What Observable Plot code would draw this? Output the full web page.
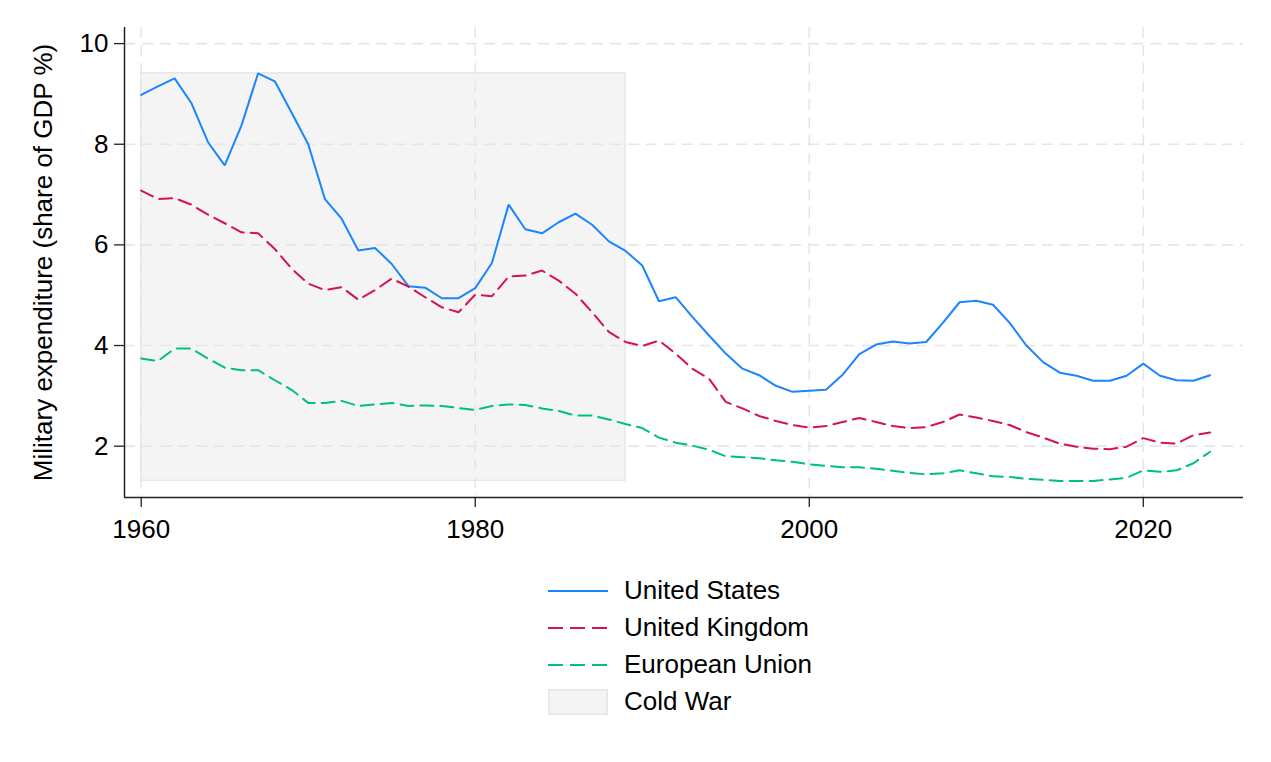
<!DOCTYPE html>
<html>
<head>
<meta charset="utf-8">
<script src="https://cdn.jsdelivr.net/npm/d3@7"></script>
<script src="https://cdn.jsdelivr.net/npm/@observablehq/plot@0.6"></script>
<style>
  html, body { margin: 0; padding: 0; background: #fff; }
  #wrap { position: relative; width: 1271px; height: 762px; font-family: "Liberation Sans", Arial, sans-serif; }
  #legend { position: absolute; left: 548px; top: 572px; font-size: 26px; color: #000; }
  .row { display: flex; align-items: center; height: 37px; }
  .row svg { display: block; margin-right: 16px; }
</style>
</head>
<body>
<div id="wrap"><div id="chart"></div><div id="legend"></div></div>
<script>
const years = [1960,1961,1962,1963,1964,1965,1966,1967,1968,1969,
  1970,1971,1972,1973,1974,1975,1976,1977,1978,1979,
  1980,1981,1982,1983,1984,1985,1986,1987,1988,1989,
  1990,1991,1992,1993,1994,1995,1996,1997,1998,1999,
  2000,2001,2002,2003,2004,2005,2006,2007,2008,2009,
  2010,2011,2012,2013,2014,2015,2016,2017,2018,2019,
  2020,2021,2022,2023,2024];

const unitedStates = [8.98,9.15,9.31,8.82,8.04,7.58,8.37,9.41,9.25,8.63,
  8.00,6.91,6.52,5.89,5.94,5.62,5.18,5.15,4.94,4.94,
  5.14,5.64,6.80,6.31,6.23,6.45,6.62,6.40,6.07,5.88,
  5.59,4.88,4.96,4.57,4.20,3.84,3.54,3.41,3.20,3.08,
  3.10,3.12,3.42,3.83,4.02,4.08,4.04,4.07,4.45,4.86,
  4.89,4.81,4.45,4.00,3.67,3.46,3.40,3.30,3.30,3.40,
  3.64,3.40,3.31,3.30,3.41];

const unitedKingdom = [7.08,6.91,6.93,6.80,6.60,6.43,6.25,6.23,5.92,5.53,
  5.23,5.10,5.16,4.91,5.10,5.33,5.17,4.96,4.76,4.66,
  5.01,4.98,5.37,5.39,5.49,5.29,5.03,4.66,4.27,4.07,
  3.99,4.10,3.84,3.54,3.34,2.88,2.75,2.60,2.50,2.42,
  2.37,2.40,2.48,2.56,2.48,2.40,2.36,2.38,2.48,2.63,
  2.57,2.50,2.42,2.28,2.17,2.05,1.99,1.95,1.94,1.99,
  2.16,2.07,2.05,2.22,2.27];

const europeanUnion = [3.74,3.69,3.94,3.94,3.74,3.56,3.51,3.51,3.31,3.12,
  2.86,2.86,2.90,2.80,2.83,2.86,2.80,2.81,2.80,2.76,
  2.72,2.80,2.83,2.82,2.75,2.70,2.61,2.61,2.53,2.44,
  2.36,2.17,2.07,2.01,1.93,1.80,1.78,1.76,1.72,1.69,
  1.64,1.61,1.58,1.58,1.55,1.51,1.47,1.44,1.46,1.52,
  1.46,1.40,1.39,1.35,1.33,1.31,1.31,1.31,1.34,1.37,
  1.52,1.49,1.52,1.66,1.89];

const seriesNames = ["United States", "United Kingdom", "European Union"];
const seriesColors = ["#1a85ff", "#d41159", "#00bf7f"];
const seriesDash = [null, "13,7", "13,7"];
const coldWarLabel = "Cold War";
const coldWarStart = 1960;
const coldWarEnd = 1989;

const xTicks = [1960, 1980, 2000, 2020];
const yTicks = [2, 4, 6, 8, 10];
const xDomain = [1959, 2026];
const yDomain = [0.98, 10.32];
const yLabel = "Military expenditure (share of GDP %)";

const seriesValues = [unitedStates, unitedKingdom, europeanUnion];
const rows = seriesNames.map((name, k) => years.map((yr, i) => ({year: yr, value: seriesValues[k][i], country: name})));
const allValues = seriesValues.flat();
const coldWar = [{start: coldWarStart, end: coldWarEnd, low: d3.min(allValues), high: d3.max(allValues)}];

const gridStyle = {stroke: "#e6e6e6", strokeOpacity: 1, strokeWidth: 1.6, strokeDasharray: "11,7"};

const chart = Plot.plot({
  width: 1271,
  height: 560,
  marginLeft: 124,
  marginRight: 28,
  marginTop: 27,
  marginBottom: 63,
  style: {fontFamily: "'Liberation Sans', Arial, sans-serif", fontSize: "26px", color: "#000", background: "#fff", overflow: "visible"},
  x: {domain: xDomain},
  y: {domain: yDomain},
  marks: [
    Plot.rect(coldWar, {x1: "start", x2: "end", y1: "low", y2: "high", fill: "#f4f4f4", stroke: "#e8e8e8", strokeWidth: 1.5}),
    Plot.gridX(xTicks, gridStyle),
    Plot.gridY(yTicks, gridStyle),
    ...rows.map((r, k) => Plot.line(r, {x: "year", y: "value", stroke: seriesColors[k], strokeWidth: 2, strokeDasharray: seriesDash[k] ?? undefined, strokeLinejoin: "miter"})),
    Plot.ruleX([xDomain[0]], {stroke: "#222", strokeWidth: 1.5}),
    Plot.ruleY([yDomain[0]], {stroke: "#222", strokeWidth: 1.5}),
    Plot.axisX(xTicks, {tickSize: 10, tickPadding: 12, tickFormat: "d", label: null, stroke: "#222", strokeWidth: 1.3, fontSize: 26}),
    Plot.axisY(yTicks, {tickSize: 10, tickPadding: 6, tickFormat: "d", label: yLabel, labelAnchor: "center", labelArrow: "none", labelOffset: 91, stroke: "#222", strokeWidth: 1.3, fontSize: 26})
  ]
});
document.getElementById("chart").appendChild(chart);

const legend = document.getElementById("legend");
const legendItems = seriesNames.map((n, k) => ({label: n, color: seriesColors[k], dash: seriesDash[k], type: "line"}))
  .concat([{label: coldWarLabel, type: "rect"}]);
for (const item of legendItems) {
  const row = document.createElement("div");
  row.className = "row";
  const sw = item.type === "line"
    ? `<svg width="60" height="26"><line x1="0" x2="60" y1="13" y2="13" stroke="${item.color}" stroke-width="2.2" ${item.dash ? 'stroke-dasharray="15,7"' : ""}/></svg>`
    : `<svg width="60" height="26"><rect x="0.75" y="0.75" width="58.5" height="24.5" fill="#f4f4f4" stroke="#e6e6e6" stroke-width="1.5"/></svg>`;
  row.innerHTML = sw + `<span>${item.label}</span>`;
  legend.appendChild(row);
}
</script>
</body>
</html>
